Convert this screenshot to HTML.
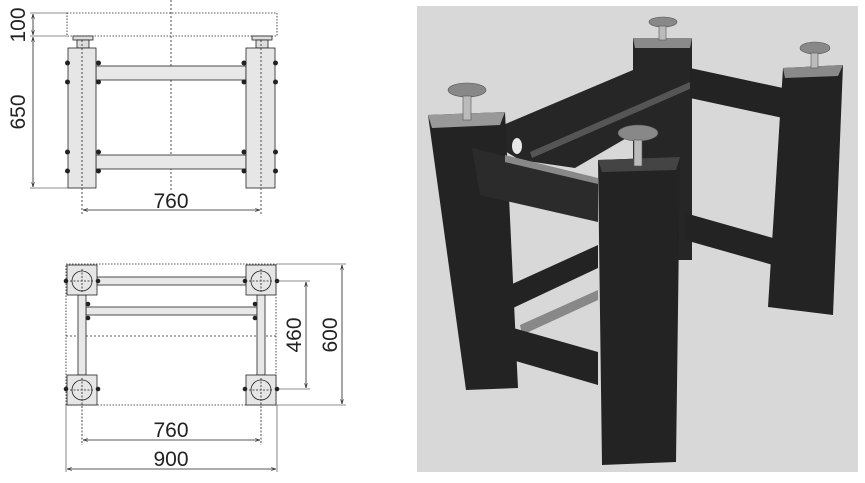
<!DOCTYPE html>
<html><head><meta charset="utf-8"><style>
html,body{margin:0;padding:0;background:#fff;}
svg{display:block;font-family:"Liberation Sans",sans-serif;}
</style></head><body>
<svg width="865" height="483" viewBox="0 0 865 483" xmlns="http://www.w3.org/2000/svg">
<defs>
<marker id="a" viewBox="0 0 10 10" refX="10" refY="5" markerWidth="6" markerHeight="6" orient="auto-start-reverse"><path d="M0,2 L10,5 L0,8" fill="none" stroke="#222" stroke-width="1.2"/></marker>
</defs>
<g stroke="#222" stroke-width="0.8" fill="none">
<rect x="67" y="13" width="210" height="23" stroke-dasharray="1.5,1.5"/>
<line x1="171" y1="0" x2="171" y2="190" stroke-dasharray="2,2"/>
<line x1="30" y1="13" x2="67" y2="13" stroke="#666"/>
<line x1="30" y1="36" x2="67" y2="36" stroke="#666"/>
<line x1="30" y1="188" x2="68" y2="188" stroke="#666"/>
<line x1="33" y1="14" x2="33" y2="35" marker-start="url(#a)" marker-end="url(#a)"/>
<line x1="33" y1="37" x2="33" y2="187" marker-start="url(#a)" marker-end="url(#a)"/>
<rect x="73" y="36" width="20" height="4" fill="#ddd"/><rect x="77" y="40" width="12" height="8" fill="#ddd"/>
<rect x="252" y="36" width="20" height="4" fill="#ddd"/><rect x="256" y="40" width="12" height="8" fill="#ddd"/>
<rect x="96" y="66" width="150" height="14" fill="#e8e8e8"/>
<rect x="96" y="155" width="150" height="14" fill="#e8e8e8"/>
<rect x="68" y="48" width="28" height="140" fill="#e6e6e6"/>
<rect x="246" y="48" width="29" height="140" fill="#e6e6e6"/>
<line x1="82" y1="40" x2="82" y2="215" stroke-dasharray="2,2"/>
<line x1="261" y1="40" x2="261" y2="215" stroke-dasharray="2,2"/>
<line x1="83" y1="210" x2="260" y2="210" marker-start="url(#a)" marker-end="url(#a)"/>
</g>
<g fill="#222">
<circle cx="67.5" cy="63" r="2.5"/><circle cx="98.5" cy="63" r="2.5"/><circle cx="67.5" cy="82" r="2.5"/><circle cx="98.5" cy="82" r="2.5"/>
<circle cx="67.5" cy="152" r="2.5"/><circle cx="98.5" cy="152" r="2.5"/><circle cx="67.5" cy="171" r="2.5"/><circle cx="98.5" cy="171" r="2.5"/>
<circle cx="244" cy="63" r="2.5"/><circle cx="275.5" cy="63" r="2.5"/><circle cx="244" cy="82" r="2.5"/><circle cx="275.5" cy="82" r="2.5"/>
<circle cx="244" cy="152" r="2.5"/><circle cx="275.5" cy="152" r="2.5"/><circle cx="244" cy="171" r="2.5"/><circle cx="275.5" cy="171" r="2.5"/>
</g>
<g font-size="21" fill="#222">
<text x="171" y="208" text-anchor="middle">760</text>
<text transform="translate(25,25) rotate(-90)" text-anchor="middle">100</text>
<text transform="translate(25,112) rotate(-90)" text-anchor="middle">650</text>
</g>

<g stroke="#222" stroke-width="0.8" fill="none">
<rect x="66" y="264" width="210" height="141" stroke-dasharray="1.5,1.5"/>
<line x1="66" y1="336" x2="276" y2="336" stroke-dasharray="2,2"/>
<rect x="97" y="277" width="149" height="8" fill="#e8e8e8"/>
<rect x="86" y="307" width="171" height="8" fill="#e8e8e8"/>
<rect x="78" y="295" width="8" height="80" fill="#e8e8e8"/>
<rect x="257" y="295" width="8" height="80" fill="#e8e8e8"/>
<rect x="67" y="265" width="30" height="30" fill="#e6e6e6"/>
<rect x="246" y="265" width="30" height="30" fill="#e6e6e6"/>
<rect x="67" y="375" width="30" height="30" fill="#e6e6e6"/>
<rect x="246" y="375" width="30" height="30" fill="#e6e6e6"/>
<circle cx="82" cy="281" r="10"/><circle cx="261" cy="281" r="10"/>
<circle cx="82" cy="390" r="10"/><circle cx="261" cy="390" r="10"/>
<path d="M70,281H94M82,269V293M249,281H273M261,269V293M70,390H94M82,378V445M249,390H273M261,378V445" stroke-dasharray="2,1.5"/>
<line x1="276" y1="281" x2="310" y2="281" stroke="#666"/>
<line x1="276" y1="389" x2="310" y2="389" stroke="#666"/>
<line x1="276" y1="264" x2="346" y2="264" stroke="#666"/>
<line x1="276" y1="405" x2="346" y2="405" stroke="#666"/>
<line x1="306" y1="282" x2="306" y2="388" marker-start="url(#a)" marker-end="url(#a)"/>
<line x1="342" y1="265" x2="342" y2="404" marker-start="url(#a)" marker-end="url(#a)"/>
<line x1="66" y1="405" x2="66" y2="472" stroke="#666"/>
<line x1="277" y1="405" x2="277" y2="472" stroke="#666"/>
<line x1="83" y1="440" x2="260" y2="440" marker-start="url(#a)" marker-end="url(#a)"/>
<line x1="67" y1="469" x2="276" y2="469" marker-start="url(#a)" marker-end="url(#a)"/>
</g>
<g fill="#222">
<circle cx="66" cy="281" r="2.3"/><circle cx="98" cy="281" r="2.3"/><circle cx="245" cy="281" r="2.3"/><circle cx="277" cy="281" r="2.3"/>
<circle cx="88" cy="304" r="2.3"/><circle cx="88" cy="318" r="2.3"/><circle cx="255" cy="304" r="2.3"/><circle cx="255" cy="318" r="2.3"/>
<circle cx="66" cy="389" r="2.3"/><circle cx="98" cy="389" r="2.3"/><circle cx="245" cy="389" r="2.3"/><circle cx="277" cy="389" r="2.3"/>
</g>
<g font-size="21" fill="#222">
<text x="171" y="437" text-anchor="middle">760</text>
<text x="171" y="466" text-anchor="middle">900</text>
<text transform="translate(301,335) rotate(-90)" text-anchor="middle">460</text>
<text transform="translate(337,335) rotate(-90)" text-anchor="middle">600</text>
</g>

<!-- PHOTO -->
<rect x="417" y="6" width="441" height="466" fill="#d8d8d8"/>
<g fill="#232323">
<polygon points="633,38 692,38 692,260 633,260" fill="#262626"/>
<polygon points="633,38 692,38 690,48 635,48" fill="#8a8a8a"/>
<!-- top back bars -->
<polygon points="503,125 633,70 692,70 692,100 575,168 520,160 503,150" fill="#262626"/>
<polygon points="530,152 690,82 692,88 532,158" fill="#555"/>
<polygon points="690,68 783,88 783,118 690,98"/>
<!-- back-right leg -->
<polygon points="783,68 843,65 833,315 768,307"/>
<polygon points="783,68 843,65 838,76 785,78" fill="#8a8a8a"/>
<polygon points="685,213 773,238 773,265 685,240"/>
<!-- lower left bars -->
<polygon points="510,285 598,245 598,268 513,308"/>
<polygon points="520,325 598,290 598,300 522,335" fill="#888"/>
<polygon points="492,322 598,352 598,385 495,355"/>
<!-- front-left leg -->
<polygon points="428,115 505,112 518,388 466,390"/>
<polygon points="428,115 505,112 500,125 432,128" fill="#999"/>
<!-- top front bar -->
<polygon points="472,148 598,180 598,222 480,195" fill="#2b2b2b"/>
<polygon points="505,155 598,178 598,184 505,162" fill="#888"/>
<ellipse cx="517" cy="146" rx="5" ry="8" fill="#e8e8e8"/>
<!-- front-center leg -->
<polygon points="598,160 680,157 676,462 602,465"/>
<polygon points="598,160 680,157 676,170 602,172" fill="#444"/>
</g>
<g fill="#888" stroke="#555" stroke-width="0.6">
<ellipse cx="467" cy="90" rx="19" ry="7"/><rect x="463" y="96" width="8" height="24" fill="#bbb"/>
<ellipse cx="638" cy="133" rx="20" ry="8"/><rect x="634" y="140" width="8" height="26" fill="#bbb"/>
<ellipse cx="663" cy="22" rx="14" ry="5"/><rect x="659" y="26" width="7" height="14" fill="#bbb"/>
<ellipse cx="815" cy="48" rx="15" ry="6"/><rect x="811" y="53" width="7" height="15" fill="#bbb"/>
</g>
</svg>
</body></html>
